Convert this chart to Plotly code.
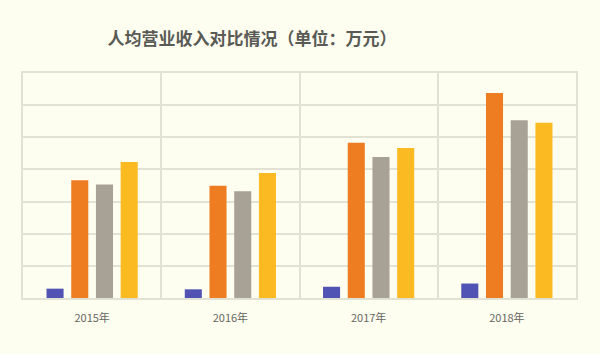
import plotly.graph_objects as go

years = ["2015年", "2016年", "2017年", "2018年"]
series_names = ["系列1", "系列2", "系列3", "系列4"]
s1 = [2.9, 2.7, 3.5, 4.5]
s2 = [36.6, 34.9, 48.3, 63.8]
s3 = [35.3, 33.2, 43.9, 55.3]
s4 = [42.3, 38.9, 46.7, 54.5]
colors = ["#5052B4", "#EE7D22", "#A8A195", "#FBBA22"]

fig = go.Figure()
for name, vals, col in zip(series_names, [s1, s2, s3, s4], colors):
    fig.add_trace(go.Bar(x=years, y=vals, name=name, marker_color=col,
                         marker_line_width=0))

grid = "#E2E2D4"
fig.update_layout(
    width=600, height=354,
    margin=dict(l=23, r=24, t=73, b=56),
    paper_bgcolor="#FDFDF0",
    plot_bgcolor="#FDFDF0",
    showlegend=False,
    barmode="group",
    bargap=0.285,
    bargroupgap=0.31,
    title=dict(text="<b>人均营业收入对比情况（单位：万元）</b>",
               x=252 / 600, xanchor="center", y=1 - 39 / 354, yanchor="middle",
               font=dict(family="Noto Sans CJK SC", size=17, color="#5A5A55")),
    font=dict(family="Noto Sans CJK SC", color="#666660"),
)
fig.update_xaxes(
    tickson="boundaries", showgrid=True, gridcolor=grid, gridwidth=1.5,
    showline=True, linecolor=grid, linewidth=1.5, mirror=True,
    ticks="", ticklabelstandoff=9, tickfont=dict(size=11, color="#666660"),
)
fig.update_yaxes(
    range=[0, 70], dtick=10, showgrid=True, gridcolor=grid, gridwidth=1.5,
    showticklabels=False, zeroline=False,
    showline=True, linecolor=grid, linewidth=1.5, mirror=True,
)

fig.write_html("out.html")
